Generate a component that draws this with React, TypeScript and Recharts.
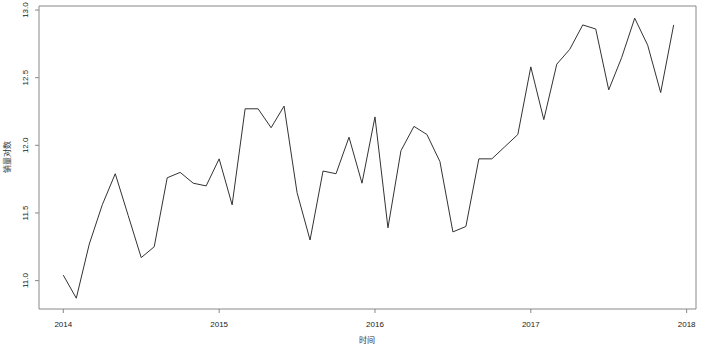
import { LineChart, Line, XAxis, YAxis, ReferenceArea } from 'recharts';

// log sales, monthly, Jan..Dec of each year
const years = [2014, 2015, 2016, 2017];
const sales2014 = [11.04, 10.87, 11.27, 11.56, 11.79, 11.48, 11.17, 11.25, 11.76, 11.8, 11.72, 11.7];
const sales2015 = [11.9, 11.56, 12.27, 12.27, 12.13, 12.29, 11.65, 11.3, 11.81, 11.79, 12.06, 11.72];
const sales2016 = [12.21, 11.39, 11.96, 12.14, 12.08, 11.88, 11.36, 11.4, 11.9, 11.9, 11.99, 12.08];
const sales2017 = [12.58, 12.19, 12.6, 12.71, 12.89, 12.86, 12.41, 12.65, 12.94, 12.74, 12.39, 12.89];

const xTicks = [2014, 2015, 2016, 2017, 2018];
const yTicks = [11, 11.5, 12, 12.5, 13];

const xDomain: [number, number] = [2013.844, 2018.06];
const yDomain: [number, number] = [10.79, 13.03];

const data = [sales2014, sales2015, sales2016, sales2017].flatMap((vals, i) =>
  vals.map((v, m) => ({ t: years[i] + m / 12, value: v }))
);

const numFont = '"Liberation Sans", Arial, sans-serif';
const cjkFont = '"Noto Sans CJK SC", sans-serif';

const YTick = (props: any) => {
  const { x, y, payload } = props;
  return (
    <text
      x={x}
      y={y}
      transform={`rotate(-90, ${x}, ${y})`}
      textAnchor="middle"
      fontSize={8}
      fontFamily={numFont}
      fill="#222"
    >
      {Number(payload.value).toFixed(1)}
    </text>
  );
};

export default function App() {
  return (
    <div style={{ position: 'absolute', left: 0, top: 0, width: 701, height: 349, background: '#fff' }}>
      <LineChart width={701} height={349} data={data} margin={{ top: 6, right: 5, bottom: 0, left: 0 }}>
        <XAxis
          dataKey="t"
          type="number"
          domain={xDomain}
          ticks={xTicks}
          allowDataOverflow
          height={40}
          axisLine={false}
          tickLine={{ stroke: '#888' }}
          tickSize={4}
          tickMargin={8}
          tick={{ fontSize: 8, fill: '#222', fontFamily: numFont }}
        />
        <YAxis
          type="number"
          domain={yDomain}
          ticks={yTicks}
          allowDataOverflow
          width={39}
          axisLine={false}
          tickLine={{ stroke: '#888' }}
          tickSize={4}
          tickMargin={7}
          tick={<YTick />}
        />
        <ReferenceArea
          x1={xDomain[0]}
          x2={xDomain[1]}
          y1={yDomain[0]}
          y2={yDomain[1]}
          fill="none"
          stroke="#888"
          strokeWidth={1}
        />
        <Line
          dataKey="value"
          type="linear"
          stroke="#333"
          strokeWidth={1}
          dot={false}
          isAnimationActive={false}
        />
      </LineChart>
      <svg width={701} height={349} style={{ position: 'absolute', left: 0, top: 0, pointerEvents: 'none' }}>
        <text x={367} y={343} textAnchor="middle" fontSize={8} fontFamily={cjkFont} fill="#333">
          时间
        </text>
        <text
          x={10}
          y={157}
          transform="rotate(-90, 10, 157)"
          textAnchor="middle"
          fontSize={8}
          fontFamily={cjkFont}
          fill="#333"
        >
          销量对数
        </text>
      </svg>
    </div>
  );
}
